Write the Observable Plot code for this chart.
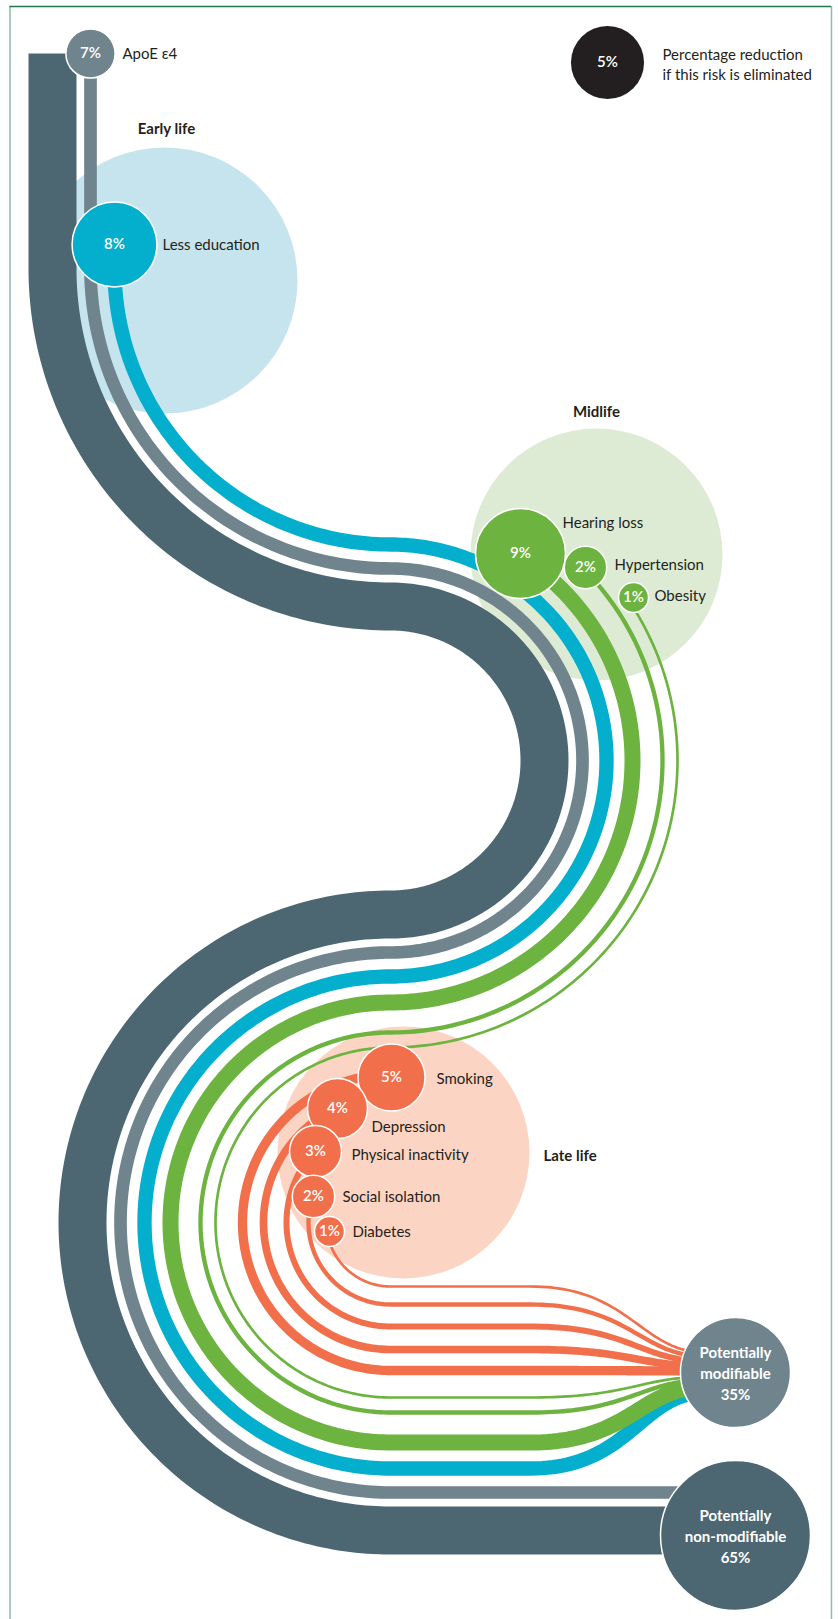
<!DOCTYPE html>
<html><head><meta charset="utf-8">
<script src="https://cdn.jsdelivr.net/npm/d3@7"></script>
<script src="https://cdn.jsdelivr.net/npm/@observablehq/plot@0.6"></script>
<style>
html,body{margin:0;padding:0;background:#fff;}
#chart svg{display:block;}
</style></head>
<body><div id="chart"></div>
<script>
// ---------------- DATA ----------------
const factors = ["ApoE ε4","Less education","Hearing loss","Hypertension","Obesity","Smoking","Depression","Physical inactivity","Social isolation","Diabetes"];
const reductions = [7, 8, 9, 2, 1, 5, 4, 3, 2, 1];
const stages = ["Genetic","Early life","Midlife","Midlife","Midlife","Late life","Late life","Late life","Late life","Late life"];
const stageNames = ["Early life","Midlife","Late life"];
const totalNames = ["Potentially\nmodifiable","Potentially\nnon-modifiable"];
const totalValues = [35, 65];
const legendValue = 5;
const legendText = "Percentage reduction\nif this risk is eliminated";

// ---------------- LAYOUT ----------------
const W = 838, H = 1619;
const C1 = [390, 268], C2 = [390, 760], C3 = [390, 1222];   // centres of the three turns
const laneR = [270, 246, 220, 190, 175, 148, 127, 104, 82, 64]; // radius in the last turn
const mainLane = 308;
const nodePos = [[90,53],[114,244],[520,553],[585,567],[633,597],[391,1077],[337,1108],[315,1151],[313,1196],[329,1231]];
const labelPos = [[122,54],[162,245],[562,523],[614,565],[654,596],[436,1079],[371,1127],[351,1155],[342,1197],[352,1232]];
const stageBgPos = [[164,280,133],[596,554,126],[403,1152,126]];
const stageLabelPos = [[166,129,"middle"],[596,412,"middle"],[543,1156,"start"]];
const modPos = [735,1372], nonPos = [735,1535];
const legendPos = [607,62], legendTextPos = [662,63];

const colors = {"Genetic":"#70848d","Early life":"#03afcd","Midlife":"#6db33f","Late life":"#f1704b"};
const bgColors = {"Early life":"#c6e4ee","Midlife":"#deebd4","Late life":"#fcd4c3"};
const mainColor = "#4d6772";

// scales for sizes
const widthScale = d3.scaleLinear().domain([0, 9, 58]).range([1, 16, 48]);
const rFactor = d3.scaleSqrt().domain([0, 9]).range([0, 45]);
const rTotal = d3.scaleSqrt().domain([0, 65]).range([0, 75]);

// ---------------- GEOMETRY ----------------
const deg = Math.PI / 180;
function arc(c, r, a0, a1) {
  const n = Math.max(2, Math.ceil(Math.abs(a1 - a0)));
  const p = [];
  for (let i = 0; i <= n; i++) {
    const a = (a0 + (a1 - a0) * i / n) * deg;
    p.push([c[0] + r * Math.cos(a), c[1] + r * Math.sin(a)]);
  }
  return p;
}
function bez(p0, p1, p2, p3, n = 50) {
  const p = [];
  for (let i = 0; i <= n; i++) {
    const t = i / n, u = 1 - t;
    p.push([
      u*u*u*p0[0] + 3*u*u*t*p1[0] + 3*u*t*t*p2[0] + t*t*t*p3[0],
      u*u*u*p0[1] + 3*u*u*t*p1[1] + 3*u*t*t*p2[1] + t*t*t*p3[1]
    ]);
  }
  return p;
}
function flowPath(lane, kind, node, end) {
  const r3 = lane, r2 = (C3[1] - C2[1]) - lane, r1 = (C2[1] - C1[1]) - r2;
  let pts = [];
  if (kind === "top") {
    const x = C1[0] - r1;
    pts.push([x, node[1]], [x, C1[1]]);
    pts.push(...arc(C1, r1, 180, 90));
    pts.push(...arc(C2, r2, -90, 90));
    pts.push(...arc(C3, r3, 270, 90));
  } else if (kind === "mid") {
    pts.push(node);
    const a = Math.atan2(node[1] - C2[1], node[0] - C2[0]) / deg;
    pts.push(...arc(C2, r2, a, 90));
    pts.push(...arc(C3, r3, 270, 90));
  } else {
    pts.push(node);
    let a = Math.atan2(node[1] - C3[1], node[0] - C3[0]) / deg;
    if (a < 90) a += 360;
    pts.push(...arc(C3, r3, a, 90));
  }
  const fy = C3[1] + r3;
  if (end === "non") {
    pts.push([nonPos[0], fy]);
  } else {
    const ey = modPos[1] + (fy - 1377) * 0.22;
    pts.push([530, fy]);
    pts.push(...bez([530, fy], [630, fy], [640, ey], [705, ey]).slice(1));
  }
  return pts;
}

const nodes = factors.map((name, i) => ({
  name, value: reductions[i], stage: stages[i],
  x: nodePos[i][0], y: nodePos[i][1], lx: labelPos[i][0], ly: labelPos[i][1],
  r: stages[i] === "Genetic" ? rTotal(reductions[i]) : rFactor(reductions[i]),
  color: colors[stages[i]]
}));

const ribbons = [];
ribbons.push({color: mainColor, width: widthScale(totalValues[1] - reductions[0]),
  points: flowPath(mainLane, "top", [0, 53], "non")});
nodes.forEach((n, i) => {
  const kind = (n.stage === "Genetic" || n.stage === "Early life") ? "top" : n.stage === "Midlife" ? "mid" : "late";
  ribbons.push({color: n.color, width: widthScale(n.value),
    points: flowPath(laneR[i], kind, [n.x, n.y], n.stage === "Genetic" ? "non" : "mod")});
});

const stageBg = stageNames.map((s, i) => ({name: s, x: stageBgPos[i][0], y: stageBgPos[i][1], r: stageBgPos[i][2], color: bgColors[s]}));
const stageLabels = stageNames.map((s, i) => ({name: s, x: stageLabelPos[i][0], y: stageLabelPos[i][1], anchor: stageLabelPos[i][2]}));
const totals = totalNames.map((s, i) => ({name: s, value: totalValues[i], x: i === 0 ? modPos[0] : nonPos[0], y: i === 0 ? modPos[1] : nonPos[1],
  r: rTotal(totalValues[i]), color: i === 0 ? colors["Genetic"] : mainColor}));
const legend = [{value: legendValue, x: legendPos[0], y: legendPos[1], r: rFactor(legendValue) + 3}];

const font = "Lato, 'Open Sans', 'Noto Sans', sans-serif";
const textColor = "#231f20";

const plot = Plot.plot({
  width: W, height: H, margin: 0,
  x: {domain: [0, W], range: [0, W], axis: null},
  y: {domain: [0, H], range: [0, H], axis: null},
  r: {type: "identity"},
  color: {type: "identity"},
  style: {fontFamily: font, background: "#fff", overflow: "visible"},
  marks: [
    // frame
    Plot.ruleX([9.5, 831], {y1: 6, y2: H, stroke: "#86bfa5", strokeWidth: 1.5}),
    Plot.ruleY([6], {x1: 9.5, x2: 831, stroke: "#1f7a4d", strokeWidth: 1.5}),
    // stage background circles
    Plot.dot(stageBg, {x: "x", y: "y", r: "r", fill: "color", stroke: null}),
    Plot.text(stageLabels.filter(d => d.anchor === "middle"), {x: "x", y: "y", text: "name", fontSize: 15, fontWeight: "bold", fill: textColor, textAnchor: "middle"}),
    Plot.text(stageLabels.filter(d => d.anchor === "start"), {x: "x", y: "y", text: "name", fontSize: 15, fontWeight: "bold", fill: textColor, textAnchor: "start"}),
    // ribbons
    ...ribbons.map(rb => Plot.line(rb.points, {x: d => d[0], y: d => d[1], stroke: rb.color, strokeWidth: rb.width,
      strokeLinecap: "butt", strokeLinejoin: "round", curve: "linear"})),
    // factor nodes
    Plot.dot(nodes, {x: "x", y: "y", r: "r", fill: "color", stroke: "white", strokeWidth: 1.5}),
    Plot.text(nodes, {x: "x", y: "y", text: d => d.value + "%", fill: "white", fontSize: 15, fontWeight: 600}),
    Plot.text(nodes, {x: "lx", y: "ly", text: "name", fill: textColor, fontSize: 15, textAnchor: "start"}),
    // totals
    Plot.dot(totals, {x: "x", y: "y", r: "r", fill: "color", stroke: "white", strokeWidth: 1.5}),
    Plot.text(totals, {x: "x", y: "y", text: d => d.name + "\n" + d.value + "%", fill: "white", fontSize: 15, fontWeight: "bold", lineHeight: 1.4}),
    // legend
    Plot.dot(legend, {x: "x", y: "y", r: "r", fill: "#231f20"}),
    Plot.text(legend, {x: "x", y: "y", text: d => d.value + "%", fill: "white", fontSize: 15, fontWeight: 600}),
    Plot.text([legendText], {x: legendTextPos[0], y: legendTextPos[1], text: d => d, fill: textColor, fontSize: 15, textAnchor: "start", lineHeight: 1.35})
  ]
});
document.getElementById("chart").appendChild(plot);
</script>
</body></html>
